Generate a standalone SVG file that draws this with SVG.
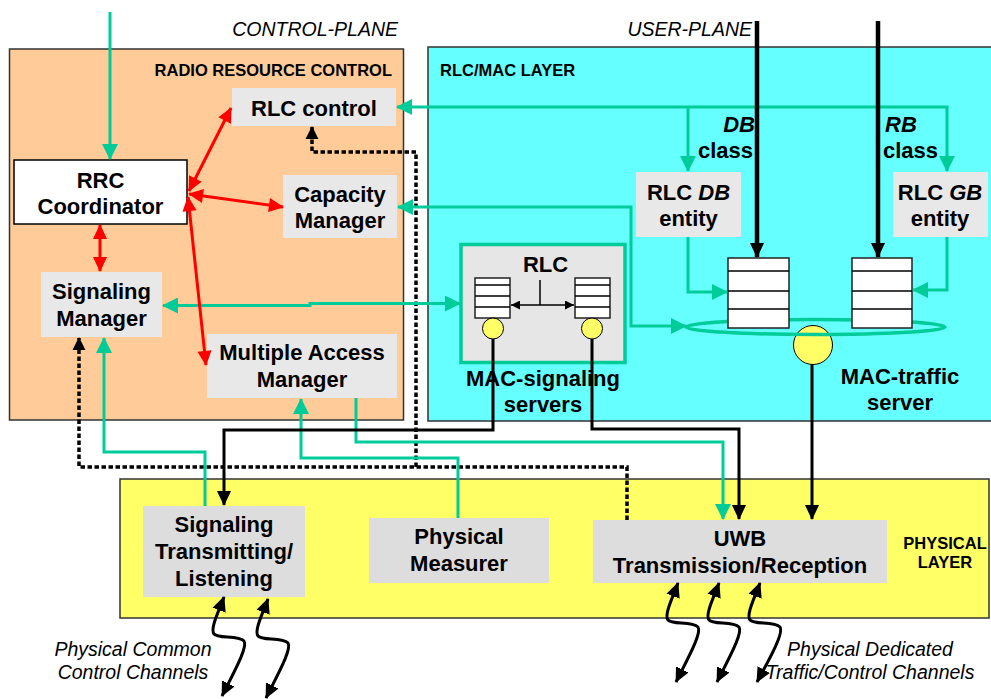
<svg xmlns="http://www.w3.org/2000/svg" width="991" height="699" viewBox="0 0 991 699">
  <style>
    text { font-family: "Liberation Sans", Arial, sans-serif; fill: #000; }
    .t { font-size: 22px; font-weight: bold; text-anchor: middle; }
    .te { text-anchor: end; }
    .ts { text-anchor: start; }
    .lbl { font-size: 16.5px; font-weight: bold; }
    .it { font-size: 19.5px; font-style: italic; }
    .frame { stroke: #333; stroke-width: 1.5; }
    .box { fill: #E8E8E8; }
    .pbox { fill: #DDDDDD; }
    .q { fill: #fff; stroke: #222; stroke-width: 1.5; }
    .ql { stroke: #000; stroke-width: 1.5; }
    .srv { fill: #FFFF66; stroke: #000; stroke-width: 1; }
    .g { stroke: #00CC99; stroke-width: 3; fill: none; }
    .r { stroke: #FF0000; stroke-width: 3; fill: none; }
    .k { stroke: #000; stroke-width: 3; fill: none; }
    .ku { stroke: #000; stroke-width: 4.5; fill: none; }
    .d { stroke: #000; stroke-width: 3.5; stroke-dasharray: 4.5 2.5; fill: none; }
  </style>
  <defs>
    <marker id="aG" viewBox="0 0 16 16" refX="15" refY="8" markerWidth="16" markerHeight="16" markerUnits="userSpaceOnUse" orient="auto-start-reverse">
      <path d="M0,0 L16,8 L0,16 z" fill="#00CC99"/>
    </marker>
    <marker id="aR" viewBox="0 0 16 16" refX="15" refY="8" markerWidth="16" markerHeight="15" markerUnits="userSpaceOnUse" orient="auto-start-reverse">
      <path d="M0,0.5 L16,8 L0,15.5 z" fill="#FF0000"/>
    </marker>
    <marker id="aK" viewBox="0 0 16 16" refX="15" refY="8" markerWidth="15" markerHeight="15" markerUnits="userSpaceOnUse" orient="auto-start-reverse">
      <path d="M0,0.5 L16,8 L0,15.5 z" fill="#000"/>
    </marker>
    <marker id="aD" viewBox="0 0 14 14" refX="13" refY="7" markerWidth="13" markerHeight="14" markerUnits="userSpaceOnUse" orient="auto-start-reverse">
      <path d="M0,0 L14,7 L0,14 z" fill="#000"/>
    </marker>
    <marker id="aS" viewBox="0 0 10 10" refX="10" refY="5" markerWidth="10" markerHeight="9" markerUnits="userSpaceOnUse" orient="auto-start-reverse">
      <path d="M0,0 L10,5 L0,10 z" fill="#000"/>
    </marker>
  </defs>

  <rect width="991" height="699" fill="#fff"/>

  <!-- plane headings -->
  <text class="it" x="398" y="36" text-anchor="end">CONTROL-PLANE</text>
  <text class="it" x="752" y="36" text-anchor="end">USER-PLANE</text>

  <!-- layer frames -->
  <g id="rrc-layer">
    <rect class="frame" x="9.5" y="49" width="394" height="371" fill="#FFCC99"/>
    <text class="lbl" x="392" y="76" text-anchor="end">RADIO RESOURCE CONTROL</text>
  </g>
  <g id="rlc-mac-layer">
    <rect class="frame" x="428" y="47" width="600" height="374" fill="#66FFFF"/>
    <text class="lbl" x="440" y="76">RLC/MAC LAYER</text>
  </g>
  <g id="physical-layer">
    <rect class="frame" x="120" y="479" width="869" height="139" fill="#FFFF66"/>
    <text class="lbl" x="945" y="549" text-anchor="middle">PHYSICAL</text>
    <text class="lbl" x="945" y="567.5" text-anchor="middle">LAYER</text>
  </g>

  <!-- radio resource control nodes -->
  <g id="rlc-control">
    <rect class="box" x="232" y="88" width="164" height="38"/>
    <text class="t" x="314" y="116">RLC control</text>
  </g>
  <g id="rrc-coordinator">
    <rect x="14" y="160" width="173" height="64" fill="#fff" stroke="#000" stroke-width="1.5"/>
    <text class="t" x="100.5" y="188">RRC</text>
    <text class="t" x="100.5" y="214">Coordinator</text>
  </g>
  <g id="capacity-manager">
    <rect class="box" x="283" y="175" width="114" height="63"/>
    <text class="t" x="340" y="202">Capacity</text>
    <text class="t" x="340" y="228">Manager</text>
  </g>
  <g id="signaling-manager">
    <rect class="box" x="41" y="272" width="121" height="65"/>
    <text class="t" x="101.5" y="299">Signaling</text>
    <text class="t" x="101.5" y="326">Manager</text>
  </g>
  <g id="multiple-access-manager">
    <rect class="box" x="207" y="334" width="190" height="64"/>
    <text class="t" x="302" y="360">Multiple Access</text>
    <text class="t" x="302" y="387">Manager</text>
  </g>

  <!-- RLC/MAC nodes -->
  <g id="rlc-db-entity">
    <rect class="box" x="636" y="172" width="105" height="65"/>
    <text class="t" x="688.5" y="200">RLC <tspan font-style="italic">DB</tspan></text>
    <text class="t" x="688.5" y="226">entity</text>
  </g>
  <g id="rlc-gb-entity">
    <rect class="box" x="893" y="172" width="95" height="65"/>
    <text class="t" x="940" y="200">RLC <tspan font-style="italic">GB</tspan></text>
    <text class="t" x="940" y="226">entity</text>
  </g>
  <g id="class-labels">
    <text class="t te" x="755" y="132" font-style="italic">DB</text>
    <text class="t te" x="753" y="158">class</text>
    <text class="t ts" x="885" y="132" font-style="italic">RB</text>
    <text class="t ts" x="883" y="158">class</text>
  </g>
  <g id="mac-signaling-servers">
    <rect x="461" y="244.5" width="164" height="118" fill="#E6E6E6" stroke="#00CC99" stroke-width="3.5"/>
    <text class="t" x="545.5" y="272">RLC</text>
    <rect class="q" x="475" y="278" width="35" height="40"/>
    <path class="ql" d="M475,285 H510 M475,296 H510 M475,307 H510"/>
    <rect class="q" x="575" y="278" width="35" height="40"/>
    <path class="ql" d="M575,285 H610 M575,296 H610 M575,307 H610"/>
    <path d="M540,280 V305" stroke="#000" stroke-width="1.5" fill="none"/>
    <path d="M511,305 H574" stroke="#000" stroke-width="1.5" fill="none" marker-start="url(#aS)" marker-end="url(#aS)"/>
    <circle class="srv" cx="493" cy="328.5" r="10.5"/>
    <circle class="srv" cx="592" cy="328.5" r="10.5"/>
    <text class="t" x="543" y="386">MAC-signaling</text>
    <text class="t" x="543" y="412">servers</text>
  </g>
  <g id="mac-traffic-server">
    <circle class="srv" cx="813" cy="345" r="19.5"/>
    <ellipse cx="815.5" cy="327" rx="129.5" ry="7.5" fill="none" stroke="#00CC99" stroke-width="3.5"/>
    <rect class="q" x="728" y="258" width="61" height="70"/>
    <path class="ql" d="M728,271 H789 M728,291 H789 M728,309 H789"/>
    <rect class="q" x="852" y="258" width="60" height="70"/>
    <path class="ql" d="M852,271 H912 M852,291 H912 M852,309 H912"/>
    <text class="t" x="900" y="384">MAC-traffic</text>
    <text class="t" x="900" y="410">server</text>
  </g>

  <!-- physical layer nodes -->
  <g id="signaling-transmitting-listening">
    <rect class="pbox" x="143" y="506" width="162" height="91"/>
    <text class="t" x="224" y="532">Signaling</text>
    <text class="t" x="224" y="559">Transmitting/</text>
    <text class="t" x="224" y="586">Listening</text>
  </g>
  <g id="physical-measurer">
    <rect class="pbox" x="369" y="518" width="180" height="65"/>
    <text class="t" x="459" y="544">Physical</text>
    <text class="t" x="459" y="571">Measurer</text>
  </g>
  <g id="uwb-transmission-reception">
    <rect class="pbox" x="593" y="520" width="294" height="63"/>
    <text class="t" x="740" y="546">UWB</text>
    <text class="t" x="740" y="573">Transmission/Reception</text>
  </g>

  <!-- channel labels -->
  <text class="it" x="133" y="656" text-anchor="middle">Physical Common</text>
  <text class="it" x="133" y="679" text-anchor="middle">Control Channels</text>
  <text class="it" x="870" y="656" text-anchor="middle">Physical Dedicated</text>
  <text class="it" x="870" y="679" text-anchor="middle">Traffic/Control Channels</text>

  <!-- connectors -->
  <g id="connectors">
    <!-- dotted control links -->
    <path class="d" d="M627,520 V467 H79 V338" marker-end="url(#aD)"/>
    <path class="d" d="M416,467 V152 H312 V127" marker-end="url(#aD)"/>

    <!-- green signalling links -->
    <path class="g" d="M110,12 V159" marker-end="url(#aG)"/>
    <path class="g" d="M947,171 V107 H397" marker-start="url(#aG)" marker-end="url(#aG)"/>
    <path class="g" d="M688,107 V171" marker-end="url(#aG)"/>
    <path class="g" d="M686,326 H631 V207 H398" marker-start="url(#aG)" marker-end="url(#aG)"/>
    <path class="g" d="M163,305.5 H310 V303.5 H460" marker-start="url(#aG)" marker-end="url(#aG)"/>
    <path class="g" d="M688,237 V292 H727" marker-end="url(#aG)"/>
    <path class="g" d="M947,237 V290 H913" marker-end="url(#aG)"/>
    <path class="g" d="M205,506 V452 H104 V338" marker-end="url(#aG)"/>
    <path class="g" d="M458,518 V458 H301 V399" marker-end="url(#aG)"/>
    <path class="g" d="M356,398 V442 H723 V519" marker-end="url(#aG)"/>

    <!-- red RRC coordination links -->
    <path class="r" d="M189,191 L231,108" marker-start="url(#aR)" marker-end="url(#aR)"/>
    <path class="r" d="M189,194 L283,207" marker-start="url(#aR)" marker-end="url(#aR)"/>
    <path class="r" d="M188,197 L206,365" marker-start="url(#aR)" marker-end="url(#aR)"/>
    <path class="r" d="M100,225 V271" marker-start="url(#aR)" marker-end="url(#aR)"/>

    <!-- black data paths -->
    <path class="ku" d="M757,21 V257" marker-end="url(#aK)"/>
    <path class="ku" d="M878,21 V257" marker-end="url(#aK)"/>
    <path class="k" d="M493,339 V430 H224 V505" marker-end="url(#aK)"/>
    <path class="k" d="M592,339 V429 H739 V519" marker-end="url(#aK)"/>
    <path class="k" d="M812,364.5 V519" marker-end="url(#aK)"/>

    <!-- radio channels -->
    <path class="k" transform="translate(224,597)" d="M0,0 C-6,16 -14,32 -10,37 C-6,42 14,38 20,44 C24,50 10,75 -2,99" marker-start="url(#aK)" marker-end="url(#aK)"/>
    <path class="k" transform="translate(268,599)" d="M0,0 C-6,16 -14,32 -10,37 C-6,42 14,38 20,44 C24,50 10,75 -2,99" marker-start="url(#aK)" marker-end="url(#aK)"/>
    <path class="k" transform="translate(678,583)" d="M0,0 C-6,16 -14,32 -10,37 C-6,42 14,38 20,44 C24,50 10,75 -2,99" marker-start="url(#aK)" marker-end="url(#aK)"/>
    <path class="k" transform="translate(719,583)" d="M0,0 C-6,16 -14,32 -10,37 C-6,42 14,38 20,44 C24,50 10,75 -2,99" marker-start="url(#aK)" marker-end="url(#aK)"/>
    <path class="k" transform="translate(760,583)" d="M0,0 C-6,16 -14,32 -10,37 C-6,42 14,38 20,44 C24,50 10,75 -3,99" marker-start="url(#aK)" marker-end="url(#aK)"/>
  </g>
</svg>
